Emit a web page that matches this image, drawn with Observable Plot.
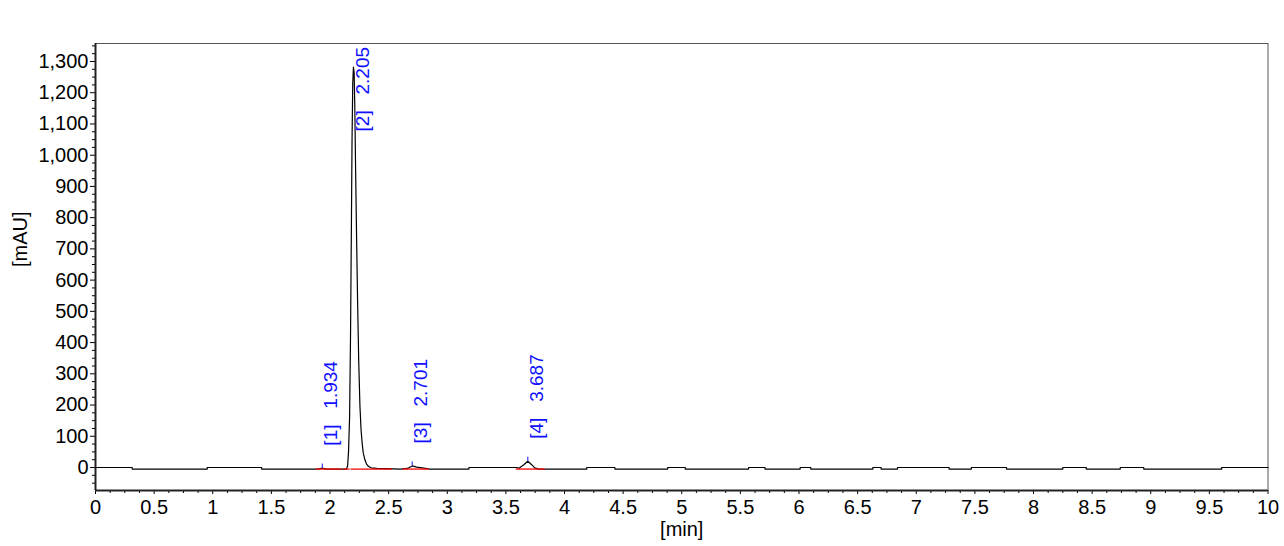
<!DOCTYPE html>
<html>
<head>
<meta charset="utf-8">
<script src="https://cdn.jsdelivr.net/npm/d3@7"></script>
<script src="https://cdn.jsdelivr.net/npm/@observablehq/plot@0.6"></script>
<style>
  html, body { margin: 0; padding: 0; background: #fff; }
  #chart { width: 1284px; height: 546px; }
</style>
</head>
<body>
<div id="chart"></div>
<script>
// ---- data ----
const time = [
  0, 0.313, 0.313, 0.953, 0.953, 1.417, 1.417, 1.90, 1.934, 1.97,
  2.140, 2.150, 2.158, 2.167, 2.175, 2.182, 2.188, 2.194, 2.200, 2.206,
  2.212, 2.219, 2.227, 2.236, 2.245, 2.255, 2.265, 2.275, 2.284, 2.298,
  2.312, 2.330, 2.350, 2.40, 2.60, 2.66, 2.701, 2.74, 2.80, 2.85,
  3.185, 3.185, 3.59, 3.612, 3.65, 3.687, 3.72, 3.746, 3.78,
  4.19, 4.19, 4.43, 4.43, 4.88, 4.88, 5.03, 5.03, 5.57, 5.57, 5.71, 5.71,
  6.01, 6.01, 6.10, 6.10, 6.63, 6.63, 6.70, 6.70, 6.84, 6.84, 7.28, 7.28,
  7.47, 7.47, 7.77, 7.77, 8.25, 8.25, 8.45, 8.45, 8.74, 8.74, 8.94, 8.94,
  9.605, 9.605, 10
];
const signal = [
  0, 0, -5, -5, 0, 0, -5, -5, -2, -5,
  -5, 5, 50, 160, 420, 750, 1050, 1230, 1282, 1262,
  1140, 940, 730, 520, 340, 200, 120, 75, 46, 24,
  11, 3, -1, -3, -5, -3, 5, 1, -2, -5,
  -5, 0, 0, -2, 8, 20, 9, -1, -5,
  -5, 0, 0, -5, -5, 0, 0, -5, -5, 0, 0, -5,
  -5, 0, 0, -5, -5, 0, 0, -5, -5, 0, 0, -5,
  -5, 0, 0, -5, -5, 0, 0, -5, -5, 0, 0, -5,
  -5, 0, 0
];

const peakNames = ["[1]", "[2]", "[3]", "[4]"];
const peakTimes = [1.934, 2.205, 2.701, 3.687];
const peakApex  = [-2, 1282, 5, 20];

const baseStart = [1.877, 2.115, 2.175, 2.617, 3.584];
const baseEnd   = [2.099, 2.167, 2.530, 2.844, 3.831];
const baseLevel = [-5, -5, -5, -5, -5];

const xMajor = d3.range(0, 10.001, 0.5);
const xMinor = d3.range(0, 10.001, 0.125).filter(v => Math.abs(v / 0.5 - Math.round(v / 0.5)) > 1e-6);
const yMajor = d3.range(0, 1301, 100);
const yMinor = d3.range(-50, 1351, 25).filter(v => v % 100 !== 0);

// ---- build tables ----
const trace = time.map((t, i) => ({t, v: signal[i]}));
const peaks = peakNames.map((n, i) => ({
  name: n, t: peakTimes[i], apex: peakApex[i],
  label: `${n}\u00a0\u00a0\u00a0${peakTimes[i].toFixed(3)}`,
  ly: Math.min(peakApex[i] + 72, 1076)
}));
const baselines = baseStart.map((s, i) => ({x1: s, x2: baseEnd[i], y: baseLevel[i]}));

const yDomain = [-73.6, 1357.6];
const blue = "#1010ff";

const chart = Plot.plot({
  width: 1284,
  height: 546,
  marginTop: 43,
  marginBottom: 56,
  marginLeft: 95,
  marginRight: 16.5,
  style: {fontFamily: "'Liberation Sans', Arial, sans-serif", fontSize: "20px", background: "#fff", color: "#000"},
  x: {domain: [0, 10]},
  y: {domain: yDomain},
  marks: [
    Plot.frame({stroke: "#555", strokeWidth: 1}),
    Plot.axisY(yMajor, {tickSize: 5, tickPadding: 2, tickFormat: d3.format(","), label: null, fontSize: 20}),
    Plot.axisY(yMinor, {tickSize: 3, tickFormat: () => "", label: null}),
    Plot.axisX(xMajor, {tickSize: 4, tickPadding: 5, tickFormat: d => d3.format("")(d), label: null, fontSize: 20}),
    Plot.axisX(xMinor, {tickSize: 3, tickFormat: () => "", label: null}),
    Plot.ruleX([0], {stroke: "#222", strokeWidth: 2}),
    Plot.ruleY([yDomain[0]], {stroke: "#222", strokeWidth: 2}),
    Plot.line(trace, {x: "t", y: "v", stroke: "#000", strokeWidth: 1.2}),
    Plot.link(baselines, {x1: "x1", x2: "x2", y1: "y", y2: "y", stroke: "#ff0000", strokeWidth: 1.3}),
    Plot.ruleX(peaks.filter(p => p.apex < 500), {x: "t", y1: "apex", y2: d => d.apex + 13, stroke: blue, strokeWidth: 1}),
    Plot.text(peaks, {x: "t", y: "ly", text: "label", rotate: -90, textAnchor: "start", dx: 9, fill: blue, fontSize: 19}),
    Plot.text(["[mAU]"], {frameAnchor: "left", dx: -75, rotate: -90, fontSize: 20, fill: "#000"}),
    Plot.text(["[min]"], {frameAnchor: "bottom", dy: 45, fontSize: 20, fill: "#000"})
  ]
});
document.getElementById("chart").appendChild(chart);
</script>
</body>
</html>
